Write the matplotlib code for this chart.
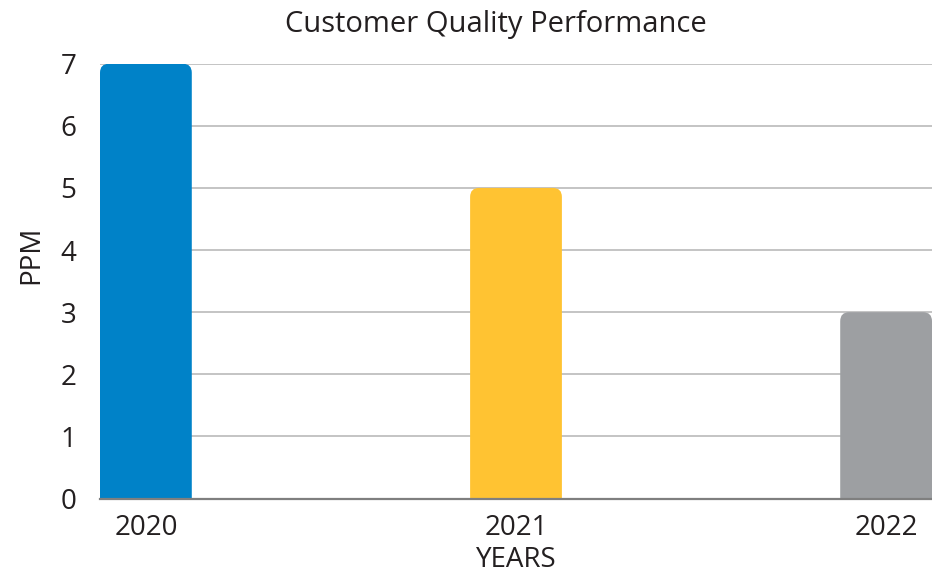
import matplotlib
matplotlib.use("Agg")
import matplotlib.pyplot as plt
from matplotlib.patches import FancyBboxPatch

# data
years = ['2020', '2021', '2022']
ppm = [7, 5, 3]
colors = ['#0082C8', '#FFC332', '#9D9FA2']

plt.rcParams['font.family'] = ['Open Sans', 'DejaVu Sans']
txt = '#231F20'

fig = plt.figure(figsize=(9.32, 5.74), dpi=100)
ax = fig.add_axes([0.1073, 0.1315, 0.8927, 0.7575])

width = 0.248
ax.set_xlim(-width / 2, len(years) - 1 + width / 2)
ax.set_ylim(0, 7)
ax.set_yticks(range(0, 8))
ax.grid(axis='y', color='#BFBFBF', linewidth=1.3)
ax.set_axisbelow(True)

# bars with rounded top corners (radius ~9px)
fig.canvas.draw()
px_x = ax.transData.transform((1, 0))[0] - ax.transData.transform((0, 0))[0]
px_y = ax.transData.transform((0, 1))[1] - ax.transData.transform((0, 0))[1]
r = 9.0 / px_x
aspect = (9.0 / px_y) / r
for i, (v, c) in enumerate(zip(ppm, colors)):
    h = v + 9.0 / px_y * 2
    p = FancyBboxPatch((i - width / 2, -9.0 / px_y * 2), width, h,
                       boxstyle='round,pad=0,rounding_size=%f' % r,
                       mutation_aspect=aspect, facecolor=c, edgecolor='none',
                       zorder=3)
    ax.add_patch(p)

for s in ['top', 'right', 'left']:
    ax.spines[s].set_visible(False)
ax.spines['bottom'].set_color('#7F7F7F')
ax.spines['bottom'].set_linewidth(1.6)
ax.spines['bottom'].set_zorder(4)

ax.set_xticks(range(len(years)))
ax.set_xticklabels(years)
ax.tick_params(axis='both', length=0, labelsize=20, colors=txt)
ax.tick_params(axis='y', pad=17)
ax.tick_params(axis='x', pad=11)

ax.set_title('Customer Quality Performance', fontsize=21, color=txt, pad=23, x=0.476)
ax.set_xlabel('YEARS', fontsize=20, color=txt, labelpad=3)
ax.set_ylabel('PPM', fontsize=20, color=txt)
ax.yaxis.set_label_coords(-0.066, 0.56)

fig.savefig('out.png', dpi=100)
